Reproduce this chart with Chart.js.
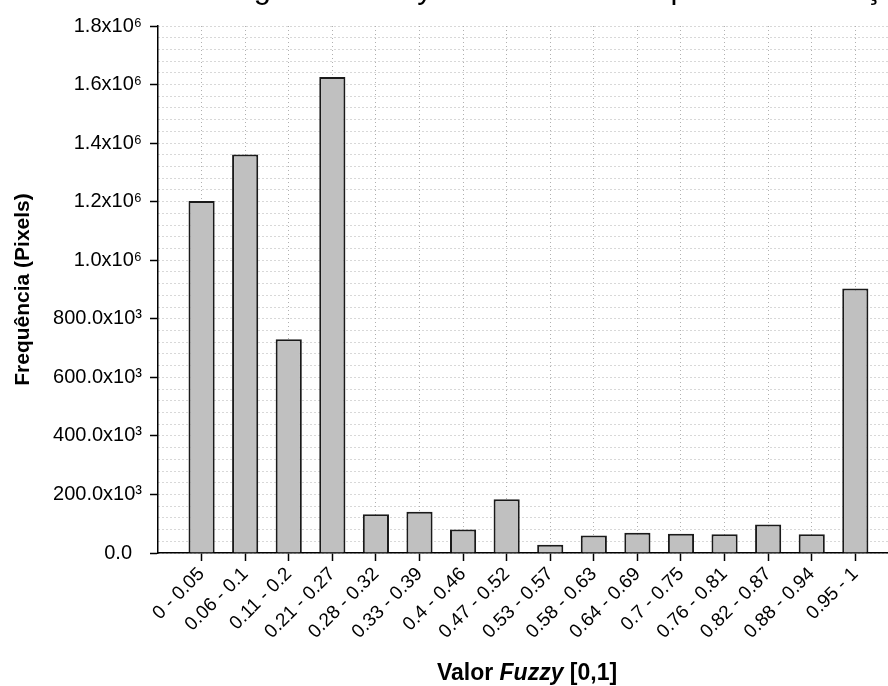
<!DOCTYPE html>
<html>
<head>
<meta charset="utf-8">
<script src="https://cdn.jsdelivr.net/npm/chart.js@4.4.0/dist/chart.umd.min.js"></script>
<style>
  body { margin: 0; background: #fff; }
  #wrap { width: 888px; height: 686px; }
</style>
</head>
<body>
<div id="wrap"><canvas id="histChart" width="888" height="686"></canvas></div>
<script>
// title is clipped at the top of the picture, only descenders show
var chartTitle = 'Histograma Fuzzy do Modelo Final para Urbanização';

var classes = ['0 - 0.05', '0.06 - 0.1', '0.11 - 0.2', '0.21 - 0.27', '0.28 - 0.32',
    '0.33 - 0.39', '0.4 - 0.46', '0.47 - 0.52', '0.53 - 0.57', '0.58 - 0.63',
    '0.64 - 0.69', '0.7 - 0.75', '0.76 - 0.81', '0.82 - 0.87', '0.88 - 0.94', '0.95 - 1'];
var pixels = [1202000, 1361000, 730000, 1626000, 132000, 141000, 80000, 184000,
    28000, 60000, 69000, 66000, 64000, 97000, 64000, 903000];

var yMax = 1800000;
var yMinorStep = 40000;
var yMajorStep = 200000;

var font = '"Liberation Sans", Arial, sans-serif';

function yLabel(v) {
    v = Math.round(v);
    if (v % yMajorStep !== 0) return '';
    if (v === 0) return '0.0\u2002';
    if (v >= 1000000) return (v / 1000000).toFixed(1) + 'x10\u2076';
    return (v / 1000).toFixed(1) + 'x10\u00b3';
}

var textPlugin = {
    id: 'texts',
    afterDraw: function (chart) {
        var c = chart.ctx;
        c.save();
        c.fillStyle = '#000';
        c.textBaseline = 'alphabetic';
        c.textAlign = 'left';
        c.font = '31px ' + font;
        c.fillText(chartTitle, 183, -2);

        var parts = [['bold ', 'Valor '], ['italic bold ', 'Fuzzy'], ['bold ', ' [0,1]']];
        var size = '23px ';
        var w = 0;
        parts.forEach(function (p) { c.font = p[0] + size + font; w += c.measureText(p[1]).width; });
        var x = 527 - w / 2;
        parts.forEach(function (p) {
            c.font = p[0] + size + font;
            c.fillText(p[1], x, 680);
            x += c.measureText(p[1]).width;
        });
        c.restore();
    }
};

var ctx = document.getElementById('histChart').getContext('2d');

var histChart = new Chart(ctx, {
    type: 'bar',
    data: {
        datasets: [{
            label: 'Frequência',
            data: pixels.map(function (v, i) { return { x: i, y: v }; }),
            backgroundColor: '#c0c0c0',
            borderColor: '#1a1a1a',
            borderWidth: 2,
            barPercentage: 0.6,
            categoryPercentage: 1.0
        }]
    },
    options: {
        responsive: false,
        animation: false,
        layout: { padding: { top: 26, right: 0, bottom: 0, left: 0 } },
        plugins: {
            legend: { display: false },
            tooltip: { enabled: false }
        },
        scales: {
            x: {
                type: 'linear',
                min: -1,
                max: 15.75,
                offset: false,
                afterBuildTicks: function (scale) {
                    scale.ticks = classes.map(function (_, i) { return { value: i }; });
                },
                afterFit: function (scale) { scale.height = 133; },
                grid: {
                    offset: false,
                    color: '#b0b0b0',
                    lineWidth: 1,
                    tickLength: 8,
                    tickColor: '#000',
                    tickWidth: 1.5,
                    tickBorderDash: []
                },
                border: { color: '#000', width: 1.5, dash: [1, 3] },
                ticks: {
                    autoSkip: false,
                    minRotation: 45,
                    maxRotation: 45,
                    padding: 2,
                    color: '#000',
                    font: { family: font, size: 19 },
                    callback: function (value) { return classes[value]; }
                }
            },
            y: {
                min: 0,
                max: yMax,
                afterFit: function (scale) { scale.width = 158; },
                grid: {
                    color: '#b0b0b0',
                    lineWidth: 1,
                    tickLength: 8,
                    tickWidth: 1.5,
                    tickBorderDash: [],
                    tickColor: function (c) {
                        return Math.round(c.tick.value) % yMajorStep === 0 ? '#000' : 'rgba(0,0,0,0)';
                    }
                },
                border: { color: '#000', width: 1.5, dash: [1, 3] },
                ticks: {
                    stepSize: yMinorStep,
                    autoSkip: false,
                    padding: 8,
                    color: '#000',
                    font: { family: font, size: 20 },
                    callback: yLabel
                },
                title: {
                    display: true,
                    text: 'Frequência (Pixels)',
                    color: '#000',
                    padding: { top: 11, bottom: 0 },
                    font: { family: font, size: 21, weight: 'bold' }
                }
            }
        }
    },
    plugins: [textPlugin]
});
</script>
</body>
</html>
